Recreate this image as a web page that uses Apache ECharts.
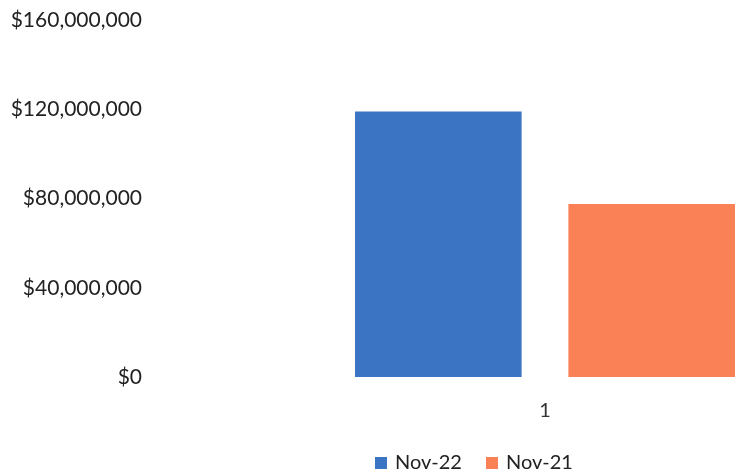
<!DOCTYPE html>
<html><head><meta charset="utf-8">
<script src="https://cdn.jsdelivr.net/npm/echarts@6/dist/echarts.min.js"></script>
<style>html,body{margin:0;padding:0;background:#fff}#c{width:735px;height:474px}</style>
</head><body><div id="c"></div>
<script>
const categories = ['1'];
const seriesNames = ['Nov-22', 'Nov-21'];
const nov22 = [119000000];
const nov21 = [77500000];
const yTicks = [0, 40000000, 80000000, 120000000, 160000000];

const chart = echarts.init(document.getElementById('c'));
const font = 'Lato, "Open Sans", sans-serif';
chart.setOption({
  animation: false,
  textStyle: { fontFamily: font },
  grid: { left: 355, right: 0, top: 20, bottom: 97, containLabel: false },
  legend: {
    data: seriesNames,
    left: 375, top: 453, padding: 0,
    icon: 'rect', itemWidth: 12, itemHeight: 12, itemGap: 24,
    textStyle: { fontSize: 20, color: '#222', fontFamily: font, padding: [0, 0, 0, 3] }
  },
  xAxis: {
    type: 'category', data: categories,
    axisLine: { show: false }, axisTick: { show: false },
    axisLabel: { fontSize: 20, color: '#333', margin: 24 }
  },
  yAxis: {
    type: 'value', min: yTicks[0], max: yTicks[yTicks.length - 1], interval: 40000000,
    offset: 205,
    splitLine: { show: false }, axisLine: { show: false }, axisTick: { show: false },
    axisLabel: {
      fontSize: 21, color: '#222', margin: 8,
      formatter: v => '$' + v.toLocaleString('en-US')
    }
  },
  series: [
    { name: seriesNames[0], type: 'bar', data: nov22, barWidth: 167, barGap: '28%', itemStyle: { color: '#3b74c3' } },
    { name: seriesNames[1], type: 'bar', data: nov21, barWidth: 167, itemStyle: { color: '#fa8055' } }
  ]
});
</script></body></html>
